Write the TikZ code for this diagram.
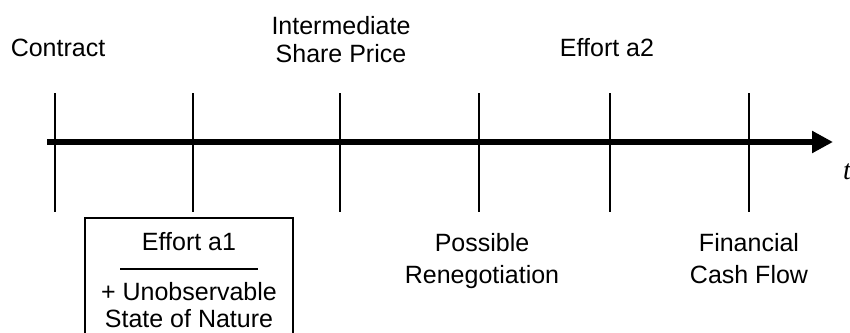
\documentclass[tikz,border=0pt]{standalone}
\usepackage{fontspec}
\setmainfont{Liberation Sans}
\newfontfamily\tfont{Liberation Serif}
\usepackage{tikz}
\usetikzlibrary{
  arrows.meta,%
  positioning,
  calc
}
\tikzset{>=latex}
\tikzset{
  timeaxis/.style={line width=6pt, line cap=butt,
    -{Triangle[length=21pt,width=21pt]}},
  tickline/.style={line width=2.5pt},
  toplabel/.style={anchor=south, inner sep=0pt, align=center,
    font=\fontsize{25}{28}\selectfont},
  botlabel/.style={anchor=north, inner sep=0pt, align=center,
    font=\fontsize{25}{32}\selectfont},
  effortbox/.style={draw, line width=1.5pt, anchor=north, align=center,
    minimum width=208pt, inner xsep=0pt, inner ysep=15pt,
    font=\fontsize{25}{27}\selectfont}
}

\begin{document}
\begin{tikzpicture}[x=1pt, y=-1pt]
  \useasboundingbox (0,0) rectangle (850,332);
  % time line
  \coordinate (start) at (47,142);
  \coordinate (end) at (833,142);
  \draw[timeaxis] (start) -- (end);
  \node[anchor=base west, inner sep=0pt, font=\fontsize{28}{30}\tfont\itshape] (t) at (843,179) {t};
  % dates
  \foreach \x/\n in {55/contract,193/effort1,340/price,479/reneg,610/effort2,749/cash}
    {
      \coordinate (\n top) at (\x,93);
      \coordinate (\n bot) at (\x,212);
      \draw[tickline] (\n top) -- (\n bot);
    }
  % events above the line
  \node[toplabel] (lcontract) at (58,57) {Contract};
  \node[toplabel] (lprice) at (341,63) {Intermediate\\Share Price};
  \node[toplabel] (leffort2) at (607,57) {Effort a2};
  % events below the line
  \node[effortbox] (leffort1) at (189,217)
    {Effort a1\\[-8pt]\rule{138pt}{1.5pt}\\[4pt]+ Unobservable\\State of Nature};
  \node[botlabel] (lreneg) at (482,233) {Possible\\Renegotiation};
  \node[botlabel] (lcash) at (749,233) {Financial\\Cash Flow};
\end{tikzpicture}
\end{document}
